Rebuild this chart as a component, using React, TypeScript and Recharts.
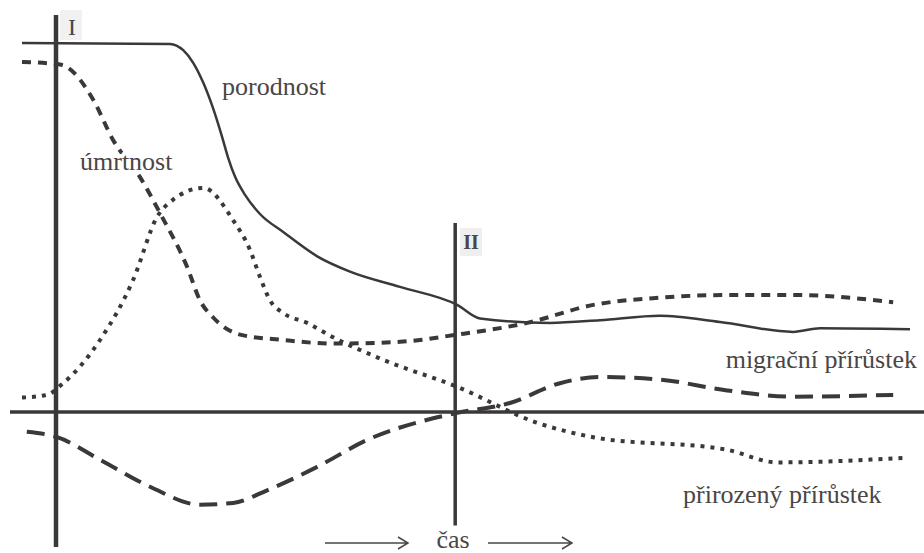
import { Line, LineChart, ReferenceLine, XAxis, YAxis } from "recharts";

// time axis: stage I at t=0, stage II at t=100
const birthT = [-8.5, 28.5, 31.8, 34.3, 36.8, 39.3, 41.5, 43, 44.8, 47.3, 51, 56.8, 65.3, 73.5, 86, 100.3, 106, 123.5, 136, 151, 166, 184.3, 191, 213.5];
const birthV = [41, 40.9, 40.2, 38.8, 36.6, 33.7, 30.6, 28.3, 26.1, 24.1, 22, 20, 17.3, 15.6, 13.9, 11.9, 10.4, 9.9, 10.2, 10.7, 10, 8.9, 9.3, 9.2];

const deathT = [-8.5, 1, 2.8, 9.3, 14.3, 21, 26, 32.8, 36, 39.3, 46, 56.8, 69.3, 86, 100.3, 117.8, 134.3, 151, 167.8, 184.3, 209.3];
const deathV = [38.9, 38.6, 38.3, 34.7, 30.2, 26.1, 22.1, 16.1, 12.4, 10.5, 8.6, 8, 7.6, 7.8, 8.6, 9.9, 11.9, 12.7, 13, 13, 12.2];

const naturalT = [-8.5, -2.3, 1.8, 11, 19.3, 25.3, 29.3, 36.8, 44.3, 48.5, 51, 53.5, 56.8, 62.8, 69.3, 81.8, 100.3, 120.3, 134.3, 167.8, 180.3, 211.8];
const naturalV = [1.6, 1.9, 3.2, 8, 14.7, 21.7, 23.6, 24.9, 21.3, 18, 15, 12.4, 11, 9.9, 8.3, 5.8, 2.8, -1.2, -2.8, -4.2, -5.6, -5.1];

const migrationT = [-7.3, 0.3, 11, 23.5, 36, 44.3, 52.8, 65.3, 77.8, 94.3, 100.3, 113.5, 126, 136, 151, 167.8, 184.3, 209.3];
const migrationV = [-2.2, -2.8, -5.3, -8.3, -10.3, -10.1, -8.7, -6.1, -3.1, -0.7, -0.1, 1, 3.2, 3.9, 3.6, 2.4, 1.7, 1.9];

const labels = {
  birth: "porodnost",
  death: "úmrtnost",
  migration: "migrační přírůstek",
  natural: "přirozený přírůstek",
  time: "čas",
};

const toRows = (t: number[], v: number[]) => t.map((x, i) => ({ t: x, v: v[i] }));

const ink = "#3b3838";
const textInk = "#4a4646";
const font = "'Liberation Serif', serif";
const halo = { stroke: "#fff", strokeWidth: 8, paintOrder: "stroke" as const, strokeLinejoin: "round" as const };

export default function App() {
  return (
    <div style={{ position: "absolute", left: 0, top: 0, width: 924, height: 553, background: "#fff" }}>
      <LineChart width={924} height={553} margin={{ top: 7, right: 0, bottom: 6, left: 0 }}>
        <XAxis type="number" dataKey="t" domain={[-14, 217]} allowDataOverflow hide />
        <YAxis type="number" dataKey="v" domain={[-15, 45]} allowDataOverflow hide />
        <ReferenceLine segment={[{ x: 0, y: 44.1 }, { x: 0, y: -15 }]} stroke={ink} strokeWidth={4.5} />
        <ReferenceLine segment={[{ x: -11.5, y: 0 }, { x: 217, y: 0 }]} stroke={ink} strokeWidth={3.5} />
        <ReferenceLine segment={[{ x: 99.8, y: 21 }, { x: 99.8, y: -12.6 }]} stroke={ink} strokeWidth={3.5} />
        <Line data={toRows(birthT, birthV)} dataKey="v" type="monotone" stroke={ink} strokeWidth={2.5} dot={false} isAnimationActive={false} />
        <Line data={toRows(deathT, deathV)} dataKey="v" type="monotone" stroke={ink} strokeWidth={4} strokeDasharray="9 7" dot={false} isAnimationActive={false} />
        <Line data={toRows(naturalT, naturalV)} dataKey="v" type="monotone" stroke={ink} strokeWidth={4} strokeDasharray="4 6" dot={false} isAnimationActive={false} />
        <Line data={toRows(migrationT, migrationV)} dataKey="v" type="monotone" stroke={ink} strokeWidth={4} strokeDasharray="18 9" dot={false} isAnimationActive={false} />
      </LineChart>
      <svg width={924} height={553} style={{ position: "absolute", left: 0, top: 0, pointerEvents: "none" }}>
        <rect x={60} y={10} width={22} height={30} fill="#f1f1f1" />
        <text x={72} y={35} textAnchor="middle" fontFamily={font} fontSize={24} fill={textInk}>I</text>
        <rect x={460} y={228} width={22} height={28} fill="#efefef" />
        <text x={471} y={249} textAnchor="middle" fontFamily={font} fontSize={20} fontWeight="bold" fill={textInk}>II</text>
        <text x={222} y={95} fontFamily={font} fontSize={26} fill={textInk} {...halo}>{labels.birth}</text>
        <text x={80} y={170} fontFamily={font} fontSize={26} fill={textInk} {...halo}>{labels.death}</text>
        <text x={917} y={368} textAnchor="end" fontFamily={font} fontSize={26} fill={textInk} {...halo}>{labels.migration}</text>
        <text x={683} y={503} fontFamily={font} fontSize={26} fill={textInk} {...halo}>{labels.natural}</text>
        <text x={453} y={548} textAnchor="middle" fontFamily={font} fontSize={26} fill={textInk} {...halo}>{labels.time}</text>
        <g stroke={textInk} strokeWidth={1.5} fill="none">
          <path d="M325 543 H408 M398 537 L408 543 L398 549" />
          <path d="M488 543 H572 M562 537 L572 543 L562 549" />
        </g>
      </svg>
    </div>
  );
}
